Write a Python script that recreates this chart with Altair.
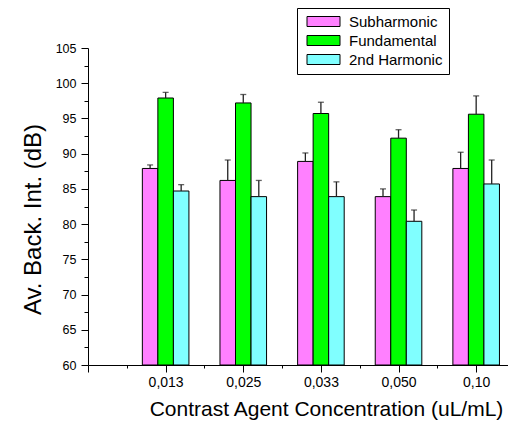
import altair as alt
import pandas as pd

categories = ["0,013", "0,025", "0,033", "0,050", "0,10"]
series_names = ["Subharmonic", "Fundamental", "2nd Harmonic"]
series_colors = ["#FF80FF", "#00FF00", "#80FFFF"]

sub_vals = [87.9, 86.2, 88.9, 83.9, 87.9]
sub_err = [0.5, 2.9, 1.2, 1.1, 2.3]
fund_vals = [97.9, 97.2, 95.7, 92.2, 95.6]
fund_err = [0.8, 1.2, 1.6, 1.2, 2.6]
harm_vals = [84.7, 83.9, 83.9, 80.4, 85.7]
harm_err = [0.9, 2.3, 2.1, 1.6, 3.4]

y_major = [60, 65, 70, 75, 80, 85, 90, 95, 100, 105]

rows = []
for sidx, (name, vals, errs) in enumerate(
    [(series_names[0], sub_vals, sub_err),
     (series_names[1], fund_vals, fund_err),
     (series_names[2], harm_vals, harm_err)]):
    for i, cat in enumerate(categories):
        rows.append({"cat": cat, "pos": i + 1, "series": name, "sidx": sidx,
                     "value": vals[i], "err": errs[i]})
df = pd.DataFrame(rows)

FONT = "Liberation Sans"
label_list = "[''," + ",".join("'%s'" % c for c in categories) + "]"

base = alt.Chart(df).transform_calculate(
    xc="datum.pos + (datum.sidx - 1) * 0.2",
    x0="datum.pos + (datum.sidx - 1) * 0.2 - 0.1",
    x1="datum.pos + (datum.sidx - 1) * 0.2 + 0.1",
    top="datum.value + datum.err",
)

xscale = alt.Scale(domain=[0, 5.41], nice=False, zero=False)
yscale = alt.Scale(domain=[60, 105], nice=False, zero=False)

xaxis = alt.Axis(
    title="Contrast Agent Concentration (uL/mL)",
    values=[i * 0.5 for i in range(0, 11)],
    tickCount=50,
    labelExpr="(datum.value % 1 === 0 && datum.value > 0) ? " + label_list + "[datum.value] : ''",
    tickSize={"condition": {"test": "datum.value % 1 === 0", "value": 7}, "value": 3},
    labelFontSize=14, labelPadding=3, labelFont=FONT, labelColor="black",
    titleFontSize=21, titleFont=FONT, titleFontWeight="normal", titleColor="black",
    titleX=238, titleY=50, titleBaseline="alphabetic", titleAlign="center",
    grid=False, domainColor="black", tickColor="black", labelFlush=False,
    labelOverlap=False,
)
ymajor_str = "[" + ",".join(str(v) for v in y_major) + "]"
yaxis = alt.Axis(
    title="Av. Back. Int. (dB)",
    values=[60 + i * 2.5 for i in range(0, 19)],
    tickCount=50,
    labelExpr="indexof(" + ymajor_str + ", datum.value) >= 0 ? format(datum.value, 'd') : ''",
    tickSize={"condition": {"test": "datum.value % 5 === 0", "value": 7}, "value": 4},
    labelFontSize=12.5, labelPadding=5, labelFont=FONT, labelColor="black",
    titleFontSize=24, titleFont=FONT, titleFontWeight="normal", titleColor="black",
    titleX=-55, titleY=171, titleBaseline="middle", titleAlign="center", titleAngle=-90,
    grid=False, domainColor="black", tickColor="black", labelOverlap=False,
    labelFlush=False,
)

bars = base.mark_rect(stroke="black", strokeWidth=1).encode(
    x=alt.X("x0:Q", scale=xscale, axis=xaxis),
    x2="x1:Q",
    y=alt.Y("value:Q", scale=yscale, axis=yaxis),
    y2=alt.datum(60),
    fill=alt.Fill("series:N",
                  scale=alt.Scale(domain=series_names, range=series_colors),
                  sort=series_names,
                  legend=alt.Legend(
                      title=None, orient="none", legendX=209, legendY=-40,
                      symbolType="M-3.3,-1H3.3V1H-3.3Z", symbolSize=100,
                      symbolStrokeColor="black", symbolStrokeWidth=1,
                      symbolOffset=13, labelOffset=18,
                      labelFont=FONT, labelFontSize=15, labelColor="black",
                      padding=6, rowPadding=3,
                      strokeColor="black", fillColor="white",
                  )),
)

err_rule = base.mark_rule(color="#222222", strokeWidth=1.3).encode(
    x="xc:Q", y="value:Q", y2="top:Q",
)
err_cap = base.mark_tick(color="#222222", thickness=1.3, size=6, orient="horizontal").encode(
    x="xc:Q", y="top:Q",
)

chart = alt.layer(bars, err_rule, err_cap).properties(
    width=420, height=317,
    autosize=alt.AutoSizeParams(type="none"),
    padding={"left": 80, "top": 40, "right": 0, "bottom": 56},
    background="white",
).configure_view(stroke=None).configure_axis(labelOverlap=False)

chart.save("out.html", embed_options={"renderer": "svg", "actions": False})
